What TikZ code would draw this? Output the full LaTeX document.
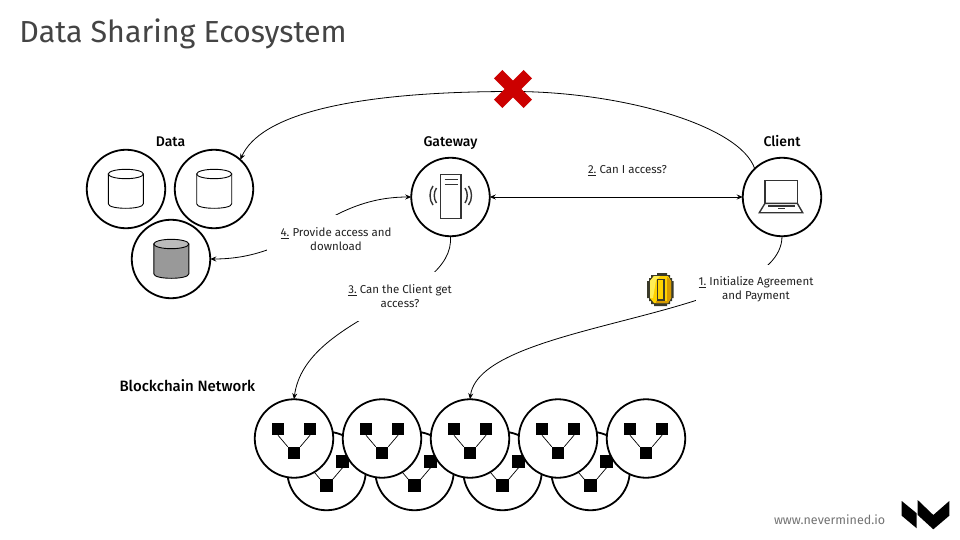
\documentclass[tikz,border=0pt]{standalone}
\usepackage{fontspec}
\setmainfont{Fira Sans}
\newfontfamily\headfont{Fira Sans Medium}
\usetikzlibrary{arrows.meta}
\definecolor{titlegray}{HTML}{444444}
\definecolor{labelgray}{HTML}{222222}
\definecolor{crossred}{HTML}{CC0000}
\definecolor{iconbody}{HTML}{999999}
\definecolor{icontop}{HTML}{BBBBBB}
\definecolor{coindark}{HTML}{3A3A2A}
\definecolor{coingold}{HTML}{FFD200}
\definecolor{coinlight}{HTML}{FFEE55}
\definecolor{coinshade}{HTML}{D89A00}
\tikzset{
  x=1pt,y=-1pt,
  every node/.style={inner sep=0,outer sep=0,font=\fontsize{11.5}{14}\selectfont,text=labelgray},
  disc/.style={circle,draw=black,line width=1.8pt,fill=white,minimum size=78.5pt},
  conn/.style={line width=0.8pt,draw=black},
  tip/.style={-{Stealth[length=6pt,width=5pt,inset=2pt]}},
  bothtips/.style={{Stealth[length=6pt,width=5pt,inset=2pt]}-{Stealth[length=6pt,width=5pt,inset=2pt]}},
  heading/.style={anchor=base,font=\fontsize{14}{16}\selectfont\headfont,text=black},
  cutlabel/.style={fill=white,align=center},
  cyl/.style={line width=0.9pt,draw=black},
  sq/.style={fill=black,minimum size=12.5pt,draw=none},
  icon/.style={line width=1.4pt,draw=black!80},
  link/.style={line width=0.7pt,draw=black},
  crossarm/.style={fill=crossred,minimum width=42pt,minimum height=12pt},
}
\newcommand{\cylinder}[4]{% x left, y top, fill body, fill top
  \path[cyl,fill=#3] (#1,#2+4.7) -- (#1,#2+34.5) .. controls (#1,#2+40.5) and (#1+35,#2+40.5) .. (#1+35,#2+34.5) -- (#1+35,#2+4.7) -- cycle;
  \path[cyl,fill=#4] (#1+17.5,#2+4.7) ellipse [x radius=17.5,y radius=4.7];
}
\newcommand{\meshnode}[3]{% name, x, y
  \node[disc] (#1) at (#2,#3) {};
  \node[sq] (#1a) at (#2-16,#3-9.5) {};
  \node[sq] (#1b) at (#2+16,#3-9.5) {};
  \node[sq] (#1c) at (#2,#3+14.5) {};
  \draw[link] (#1a.south) -- (#1c.north west);
  \draw[link] (#1b.south) -- (#1c.north east);
}
\begin{document}
\begin{tikzpicture}
\useasboundingbox (0,0) rectangle (960,540);
\fill[white] (0,0) rectangle (960,540);

\node[anchor=west,font=\fontsize{30.4}{36}\selectfont,text=titlegray] (title) at (19.5,34) {Data Sharing Ecosystem};

% data, gateway and client
\node[disc] (data1) at (126,189) {};
\node[disc] (data2) at (214,189) {};
\node[disc] (data3) at (171,259) {};
\node[disc] (gateway) at (450.5,197) {};
\node[disc] (client) at (782,197) {};

\node[heading] (ldata) at (170.5,147) {Data};
\node[heading] (lgateway) at (450.5,147) {Gateway};
\node[heading] (lclient) at (782,147) {Client};
\node[heading,anchor=base west,font=\fontsize{15}{17}\selectfont\headfont] (lchain) at (119.5,391) {Blockchain Network};

\cylinder{108.3}{169.3}{white}{white}
\cylinder{196.7}{169.3}{white}{white}
\cylinder{153.8}{239.3}{iconbody}{icontop}

% server icon
\draw[icon] (440.5,174.5) rectangle (461,218.5);
\draw[icon] (444.5,179.5) -- (457.5,179.5);
\draw[icon] (444.5,184.5) -- (457.5,184.5);
\draw[icon] (433,186) .. controls (429,191) and (429,200) .. (433,205);
\draw[icon] (436.5,188) .. controls (433.5,192) and (433.5,199) .. (436.5,203);
\draw[icon] (468.5,186) .. controls (472.5,191) and (472.5,200) .. (468.5,205);
\draw[icon] (465,188) .. controls (468,192) and (468,199) .. (465,203);

% laptop icon
\draw[icon] (765,203.3) -- (765,180.7) -- (797.3,180.7) -- (797.3,203.3);
\draw[icon] (765,203.3) -- (797.3,203.3) -- (802.7,212.7) -- (759.3,212.7) -- cycle;
\draw[icon] (768,205.8) -- (795,205.8);
\draw[icon] (778,208.5) -- (785,208.5);

% blockchain network
\meshnode{b1}{326.5}{471}
\meshnode{b2}{414.5}{471}
\meshnode{b3}{502.5}{471}
\meshnode{b4}{590.5}{471}
\meshnode{t1}{294}{438.5}
\meshnode{t2}{382}{438.5}
\meshnode{t3}{470}{438.5}
\meshnode{t4}{558}{438.5}
\meshnode{t5}{646}{438.5}

% connectors
\coordinate (crossc) at (513,91.5);
\draw[conn,tip] (client.134) .. controls (740,125) and (620,91.5) .. (crossc) .. controls (350,91.5) and (260,115) .. (data2.48);
\draw[conn,bothtips] (gateway.east) -- (client.west);
\draw[conn,bothtips] (gateway.west) .. controls (325,197) and (300,259) .. (data3.east);
\draw[conn,tip] (gateway.south) .. controls (455,300) and (305,315) .. (t1.north);
\draw[conn,tip] (client.south) .. controls (782,320) and (480,320) .. (t3.north);

% labels cut the connectors
\node[cutlabel,minimum width=138pt,minimum height=48pt] (l4) at (336,239) {\underline{4.} Provide access and\\download};
\node[cutlabel,minimum width=110pt,minimum height=49pt] (l3) at (400,296) {\underline{3.} Can the Client get\\access?};
\node[cutlabel,minimum width=120pt,minimum height=48pt] (l1) at (756,289) {\underline{1.} Initialize Agreement\\and Payment};
\node (l2) at (627.5,171) {\underline{2.} Can I access?};

% red cross
\node[crossarm,rotate=45] (crossa) at (513,89) {};
\node[crossarm,rotate=-45] (crossb) at (513,89) {};

% coin
\fill[coindark] (657,273) -- (667,273) -- (667,275) -- (670,275) -- (670,278) -- (672,278) -- (672,281) -- (673.5,281) -- (673.5,298) -- (672,298) -- (672,301) -- (670,301) -- (670,304) -- (667,304) -- (667,306) -- (654,306) -- (654,304) -- (651,304) -- (651,301) -- (649,301) -- (649,298) -- (647,298) -- (647,281) -- (649,281) -- (649,278) -- (651,278) -- (651,275) -- (657,275) -- cycle;
\fill[coingold] (654,276) -- (668,276) -- (671,281) -- (671,298) -- (668,303) -- (654,303) -- (650,298) -- (650,281) -- cycle;
\fill[coinlight] (654,276) -- (660,276) -- (656,280) -- (653,298) -- (650,298) -- (650,281) -- cycle;
\fill[coinshade] (667,277) -- (671,281) -- (671,298) -- (668,303) -- (656,303) -- (656,301) -- (667,301) -- cycle;
\fill[coindark] (656.5,278.5) rectangle (665,300.5);
\fill[coingold] (658,280) rectangle (662.5,298.5);

% footer
\node[anchor=west,font=\fontsize{12.5}{15}\selectfont,text=black!55] (url) at (774,520) {www.nevermined.io};
\fill[black] (901.7,501) -- (916.7,513.3) -- (916.7,528.3) -- (901.7,515.7) -- cycle;
\fill[black] (917.7,500) -- (933.3,515) -- (949.3,501) -- (949.3,515.7) -- (933.3,529.3) -- (917.7,515) -- cycle;
\end{tikzpicture}
\end{document}
